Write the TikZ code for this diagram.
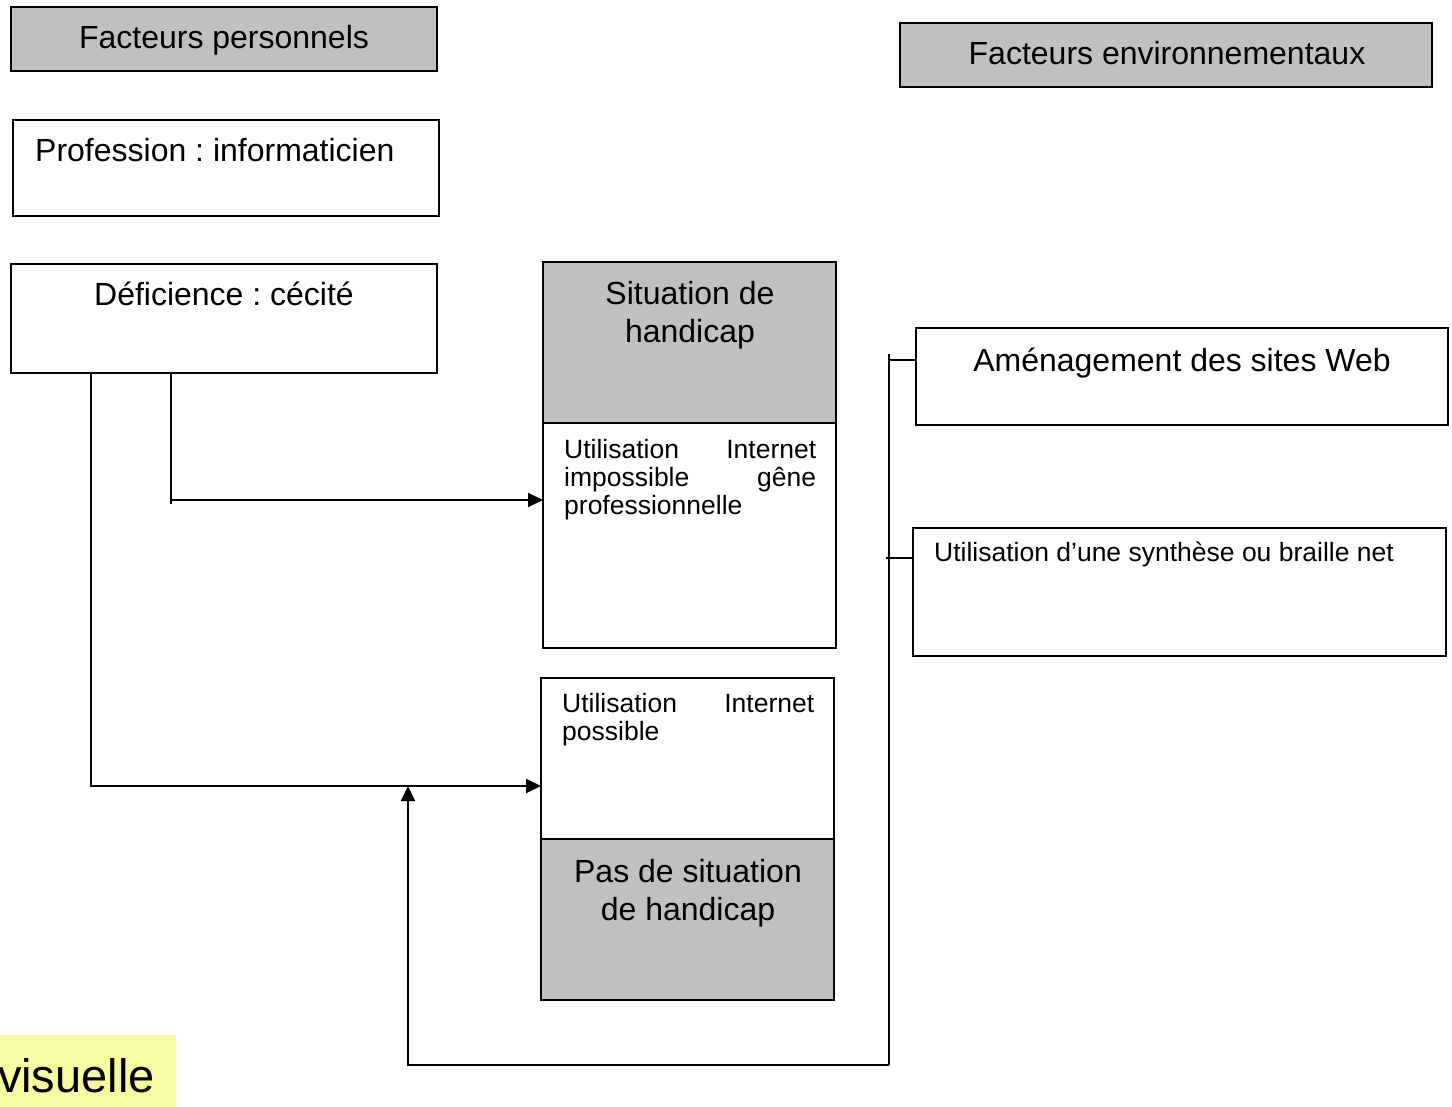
\documentclass[tikz,border=0pt]{standalone}
\usepackage{fontspec}
\setmainfont{Liberation Sans}
\usetikzlibrary{arrows.meta,calc}
\definecolor{boxgray}{RGB}{192,192,192}
\definecolor{notebg}{RGB}{247,250,163}
\frenchspacing
\begin{document}
\begin{tikzpicture}[x=1pt,y=-1pt,
  box/.style={draw=black, line width=1.8pt, anchor=north west, inner sep=0pt, outer sep=0pt},
  greybox/.style={box, fill=boxgray},
  big/.style={font=\fontsize{32}{38}\selectfont, inner sep=0pt, anchor=base},
  small/.style={font=\fontsize{26.5}{28}\selectfont, inner sep=0pt, anchor=base west},
  conn/.style={line width=2pt},
  arr/.style={conn, -{Triangle[length=15pt,width=14pt]}}]
\useasboundingbox (0,0) rectangle (1452,1107);
\clip (0,0) rectangle (1452,1107);

% personal factors column
\node[greybox, minimum width=426pt, minimum height=64pt] (fp) at (11,7) {};
\node[box, minimum width=426pt, minimum height=96pt] (prof) at (13,120) {};
\node[box, minimum width=426pt, minimum height=109pt] (defic) at (11,264) {};
\node[big] (tfp) at (224,49) {Facteurs personnels};
\node[big, anchor=base west] (tprof) at (35,162) {Profession : informaticien};
\node[big] (tdef) at (224,306) {Déficience : cécité};

% environmental factors column
\node[greybox, minimum width=532pt, minimum height=64pt] (fe) at (900,23) {};
\node[big] (tfe) at (1167,65) {Facteurs environnementaux};
\node[box, minimum width=532pt, minimum height=97pt] (amen) at (916,328) {};
\node[big] (tamen) at (1182,372) {Aménagement des sites Web};
\node[box, minimum width=533pt, minimum height=128pt] (synth) at (913,528) {};
\node[small] (tsynth) at (934,561) {Utilisation d’une synthèse ou braille net};

% handicap situation
\node[greybox, minimum width=293pt, minimum height=161pt] (sit) at (543,262) {};
\node[box, minimum width=293pt, minimum height=225pt] (imp) at (543,423) {};
\node[big] (tsit1) at (690,305) {Situation de};
\node[big] (tsit2) at (690,343) {handicap};
\node[small] (timp1) at (564,458) {\makebox[252pt]{Utilisation\hfill Internet}};
\node[small] (timp2) at (564,486) {\makebox[252pt]{impossible\hfill gêne}};
\node[small] (timp3) at (564,514) {professionnelle};

% no handicap situation
\node[box, minimum width=293pt, minimum height=161pt] (poss) at (541,678) {};
\node[greybox, minimum width=293pt, minimum height=161pt] (pas) at (541,839) {};
\node[small] (tposs1) at (562,712) {\makebox[252pt]{Utilisation\hfill Internet}};
\node[small] (tposs2) at (562,740) {possible};
\node[big] (tpas1) at (688,882) {Pas de situation};
\node[big] (tpas2) at (688,920) {de handicap};

% highlighted word
\node[fill=notebg, anchor=north west, inner sep=0pt, minimum width=176pt, minimum height=80pt] (note) at (0,1035) {};
\node[font=\fontsize{47}{52}\selectfont, inner sep=0pt, anchor=base east] (tnote) at (155,1092) {visuelle};

% connectors
\coordinate (k1) at (171,500);
\coordinate (k2) at (91,786);
\coordinate (k3) at (408,1065);
\coordinate (k4) at (889,1065);
\coordinate (k5) at (889,360);
\coordinate (k6) at (886,558);
\draw[conn] ($(defic.south west)+(160,0)$) -- ($(defic.south west)+(160,131)$);
\draw[arr] (k1) -- (k1 -| imp.west);
\draw[arr] ($(defic.south west)+(80,-1)$) -- (k2) -- (k2 -| poss.west);
\draw[arr] (k4) -- (k3) -- (k3 |- k2);
\draw[conn] (k4) -- (889,354);
\draw[conn] (k5) -- (k5 -| amen.west);
\draw[conn] (k6) -- (k6 -| synth.west);
\end{tikzpicture}
\end{document}
